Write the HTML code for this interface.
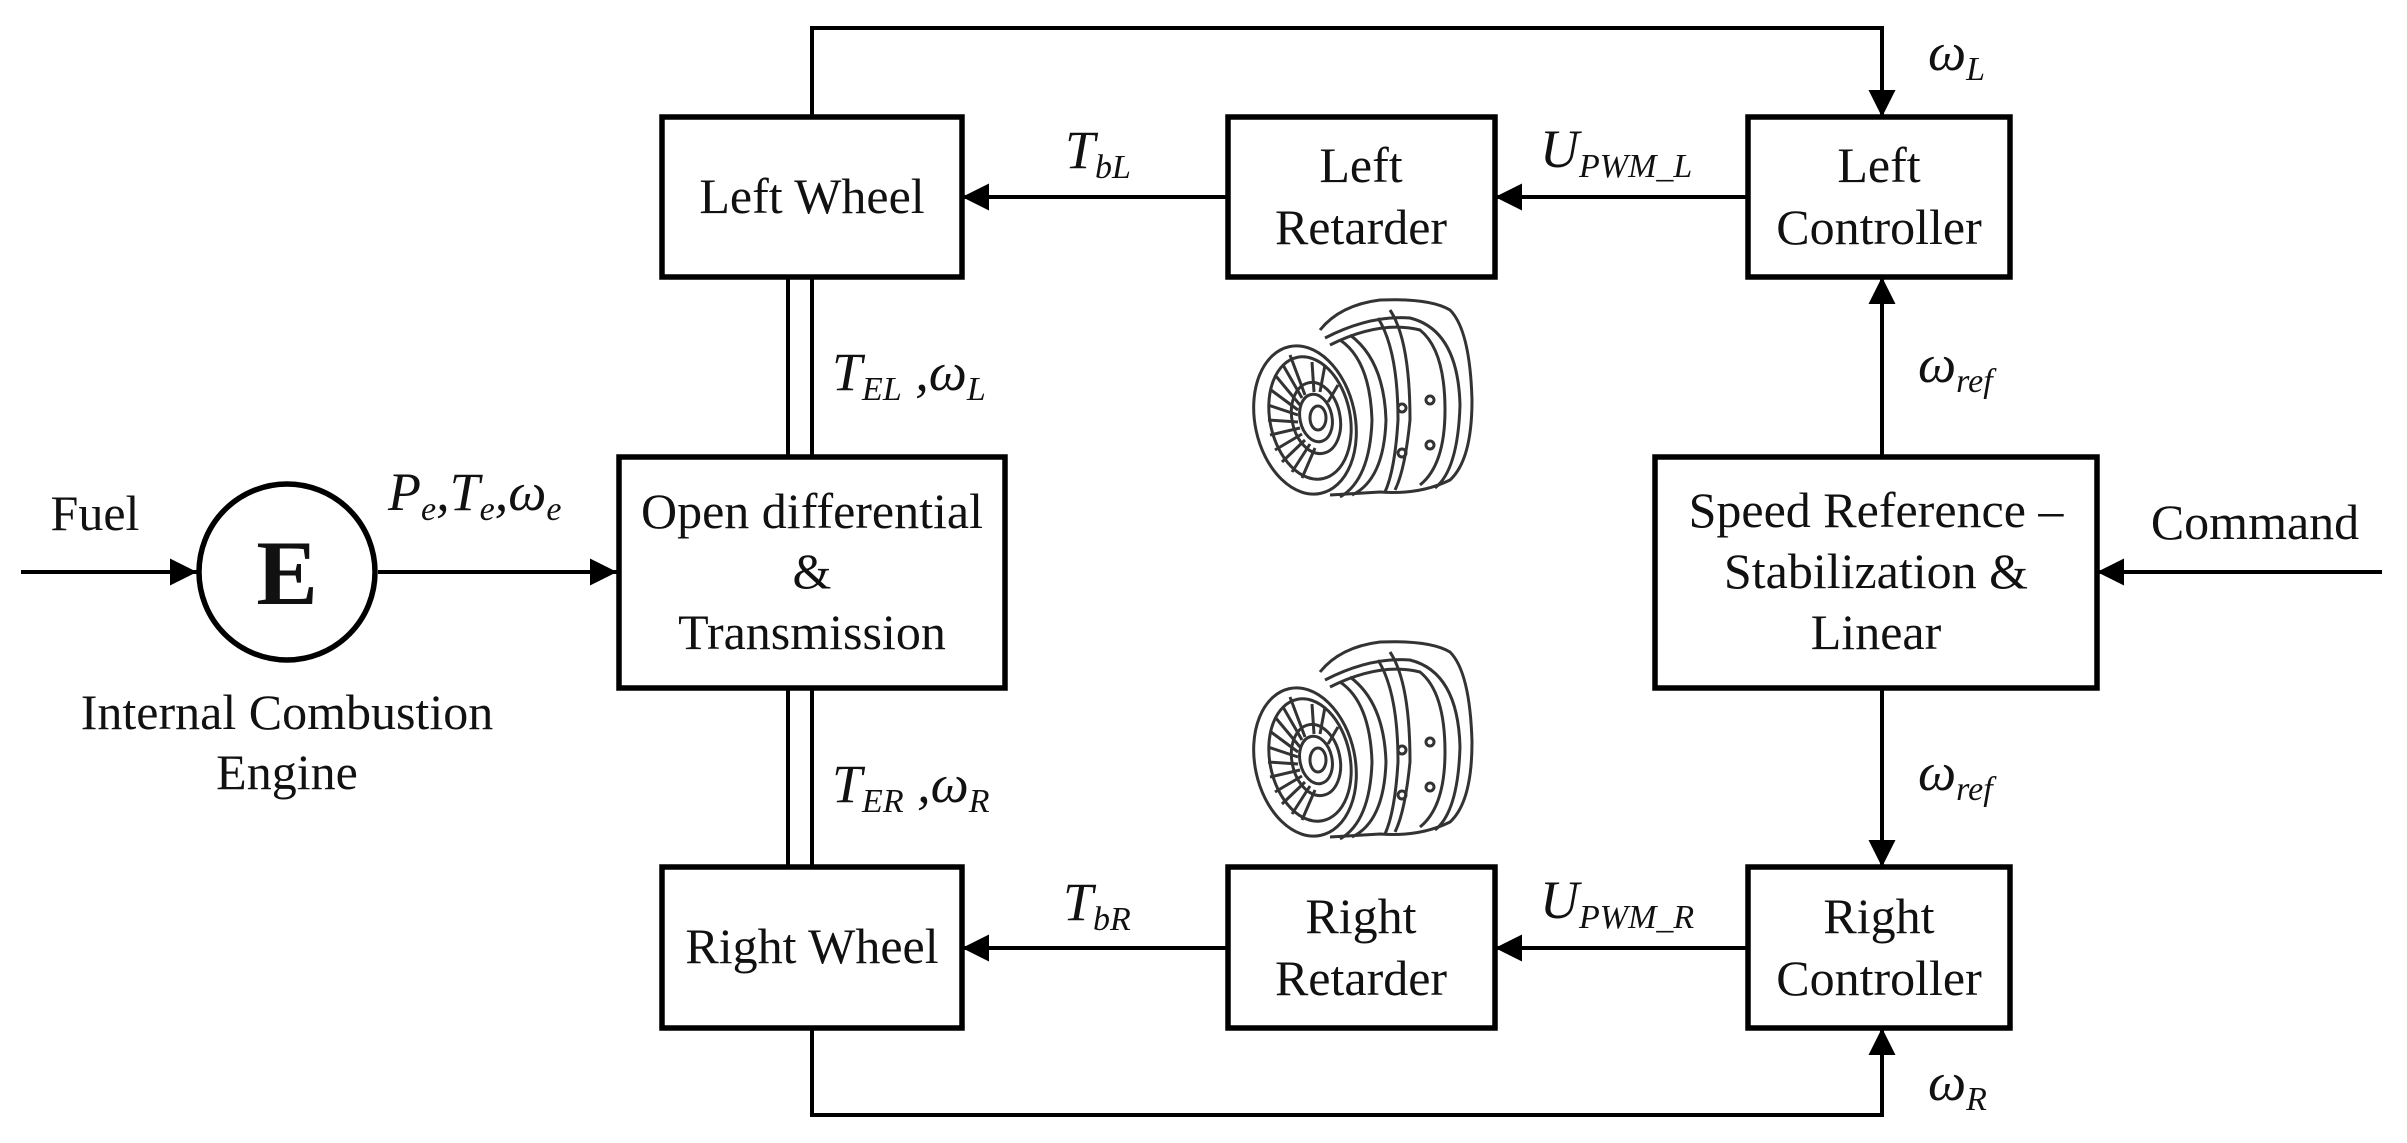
<!DOCTYPE html>
<html><head><meta charset="utf-8"><style>
html,body{margin:0;padding:0;background:#fff;}
svg{display:block;}
.t{font-family:"Liberation Serif",serif;font-size:50px;fill:#111;text-anchor:middle;}
.m{font-family:"Liberation Serif",serif;font-style:italic;font-size:54px;fill:#111;}
.s{font-size:34px;}
</style></head><body>
<svg width="2407" height="1143" viewBox="0 0 2407 1143" xmlns="http://www.w3.org/2000/svg">
<defs>
<g id="ret" fill="none" stroke="#333" stroke-width="3">
<path d="M1320 330 Q1340 305 1380 300 Q1430 298 1450 310 Q1470 330 1472 400 Q1472 460 1450 480 Q1420 495 1380 492 L1330 495"/>
<path d="M1330 345 Q1380 320 1420 330 Q1445 350 1445 410 Q1445 465 1420 485"/>
<path d="M1325 338 Q1370 315 1410 318 Q1458 330 1460 405 Q1458 470 1435 488"/>
<path d="M1390 310 Q1410 340 1410 420 Q1405 470 1395 490"/>
<path d="M1378 318 Q1398 350 1398 420 Q1395 470 1385 492"/>
<ellipse cx="1305" cy="420" rx="50" ry="75" transform="rotate(-12 1305 420)"/>
<ellipse cx="1310" cy="418" rx="40" ry="62" transform="rotate(-12 1310 418)"/>
<ellipse cx="1316" cy="418" rx="24" ry="36" transform="rotate(-12 1316 418)"/>
<ellipse cx="1316" cy="418" rx="16" ry="24" transform="rotate(-12 1316 418)"/>
<ellipse cx="1318" cy="418" rx="8" ry="12"/>
<path d="M1290 355 L1305 395 M1275 375 L1300 405 M1268 405 L1298 415 M1270 435 L1300 428 M1282 462 L1305 440 M1302 478 L1315 448 M1325 365 L1320 392 M1338 385 L1328 402 M1283 365 L1302 398 M1271 390 L1298 410 M1268 420 L1298 422 M1275 450 L1302 434 M1292 472 L1310 444 M1312 362 L1314 392"/>
<path d="M1340 340 Q1370 360 1372 420 Q1370 480 1340 497"/>
<path d="M1350 335 Q1384 360 1386 420 Q1384 480 1352 495"/>
<circle cx="1402" cy="408" r="4"/><circle cx="1402" cy="453" r="4"/><circle cx="1430" cy="400" r="4"/><circle cx="1430" cy="445" r="4"/>
</g>
<marker id="a" viewBox="0 0 10 10" refX="10" refY="5" markerWidth="27" markerHeight="27" markerUnits="userSpaceOnUse" orient="auto"><path d="M0 0 L10 5 L0 10 Z" fill="#000"/></marker>
</defs>
<g stroke="#000" stroke-width="4" fill="none">
<polyline points="812,117 812,28 1882,28 1882,117" marker-end="url(#a)"/>
<polyline points="812,1028 812,1115 1882,1115 1882,1028" marker-end="url(#a)"/>
<line x1="788" y1="277" x2="788" y2="455"/><line x1="812" y1="277" x2="812" y2="455"/>
<line x1="788" y1="688" x2="788" y2="867"/><line x1="812" y1="688" x2="812" y2="867"/>
<line x1="21" y1="572" x2="197" y2="572" marker-end="url(#a)"/>
<line x1="378" y1="572" x2="617" y2="572" marker-end="url(#a)"/>
<line x1="1228" y1="197" x2="962" y2="197" marker-end="url(#a)"/>
<line x1="1748" y1="197" x2="1495" y2="197" marker-end="url(#a)"/>
<line x1="1228" y1="948" x2="962" y2="948" marker-end="url(#a)"/>
<line x1="1748" y1="948" x2="1495" y2="948" marker-end="url(#a)"/>
<line x1="2382" y1="572" x2="2097" y2="572" marker-end="url(#a)"/>
<line x1="1882" y1="455" x2="1882" y2="277" marker-end="url(#a)"/>
<line x1="1882" y1="688" x2="1882" y2="867" marker-end="url(#a)"/>
</g>
<g stroke="#000" stroke-width="5.5" fill="#fff">
<rect x="662" y="117" width="300" height="160"/>
<rect x="619" y="457" width="386" height="231"/>
<rect x="662" y="867" width="300" height="161"/>
<rect x="1228" y="117" width="267" height="160"/>
<rect x="1748" y="117" width="262" height="160"/>
<rect x="1655" y="457" width="442" height="231"/>
<rect x="1228" y="867" width="267" height="161"/>
<rect x="1748" y="867" width="262" height="161"/>
<circle cx="287" cy="572" r="88"/>
</g>
<use href="#ret"/>
<use href="#ret" transform="translate(0,342)"/>
<text x="287" y="604" class="t" style="font-size:92px;font-weight:bold">E</text>
<text x="95" y="530" class="t">Fuel</text>
<text x="287" y="729" class="t">Internal Combustion</text>
<text x="287" y="789" class="t">Engine</text>
<text x="812" y="213" class="t">Left Wheel</text>
<text x="812" y="963" class="t">Right Wheel</text>
<text x="812" y="528" class="t">Open differential</text>
<text x="812" y="588" class="t">&amp;</text>
<text x="812" y="649" class="t">Transmission</text>
<text x="1361" y="182" class="t">Left</text>
<text x="1361" y="244" class="t">Retarder</text>
<text x="1361" y="933" class="t">Right</text>
<text x="1361" y="995" class="t">Retarder</text>
<text x="1879" y="182" class="t">Left</text>
<text x="1879" y="244" class="t">Controller</text>
<text x="1879" y="933" class="t">Right</text>
<text x="1879" y="995" class="t">Controller</text>
<text x="1876" y="527" class="t">Speed Reference –</text>
<text x="1876" y="588" class="t">Stabilization &amp;</text>
<text x="1876" y="649" class="t">Linear</text>
<text x="2255" y="539" class="t">Command</text>
<text x="388" y="510" class="m">P<tspan class="s" dy="10">e</tspan><tspan dy="-10">,T</tspan><tspan class="s" dy="10">e</tspan><tspan dy="-10">,ω</tspan><tspan class="s" dy="10">e</tspan></text>
<text x="832" y="390" class="m">T<tspan class="s" dy="10">EL</tspan><tspan dy="-10"> ,ω</tspan><tspan class="s" dy="10">L</tspan></text>
<text x="832" y="802" class="m">T<tspan class="s" dy="10">ER</tspan><tspan dy="-10"> ,ω</tspan><tspan class="s" dy="10">R</tspan></text>
<text x="1065" y="168" class="m">T<tspan class="s" dy="10">bL</tspan></text>
<text x="1063" y="920" class="m">T<tspan class="s" dy="10">bR</tspan></text>
<text x="1540" y="167" class="m">U<tspan class="s" dy="10">PWM_L</tspan></text>
<text x="1540" y="918" class="m">U<tspan class="s" dy="10">PWM_R</tspan></text>
<text x="1928" y="70" class="m">ω<tspan class="s" dy="10">L</tspan></text>
<text x="1918" y="382" class="m">ω<tspan class="s" dy="10">ref</tspan></text>
<text x="1918" y="790" class="m">ω<tspan class="s" dy="10">ref</tspan></text>
<text x="1928" y="1100" class="m">ω<tspan class="s" dy="10">R</tspan></text>
</svg>
</body></html>
